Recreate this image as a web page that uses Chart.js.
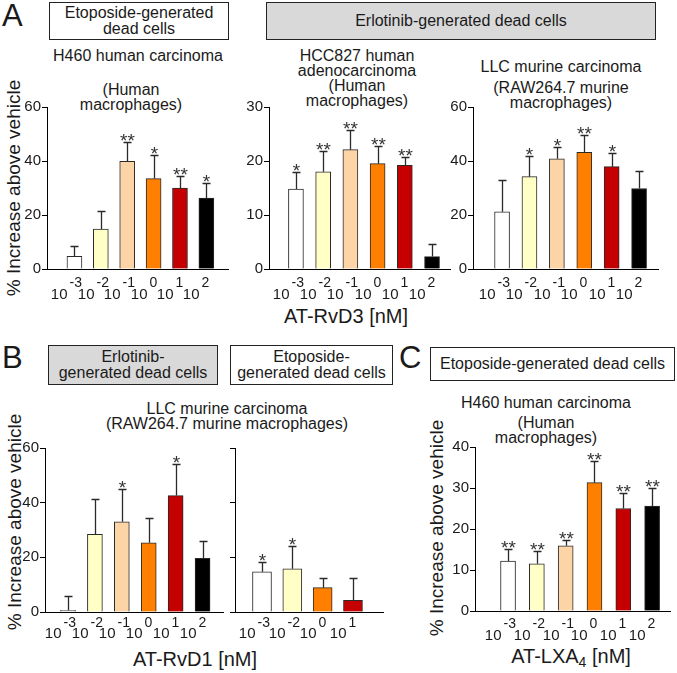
<!DOCTYPE html>
<html>
<head>
<meta charset="utf-8">
<script src="https://cdn.jsdelivr.net/npm/chart.js@4"></script>
<style>
body { margin: 0; background: #fff; }
#fig { position: relative; width: 677px; height: 673px; font-family: "Liberation Sans", Arial, sans-serif; color: #1a1a1a; }
canvas { position: absolute; }
.t { position: absolute; text-align: center; font-size: 16px; line-height: 15px; white-space: nowrap; }
.box { position: absolute; border: 1px solid #222; box-sizing: border-box; display: flex; align-items: center; justify-content: center; text-align: center; font-size: 16px; line-height: 16px; }
.gray { background: #d9d9d9; }
.white { background: #fff; }
.letter { position: absolute; font-size: 31px; line-height: 31px; }
.ax { position: absolute; font-size: 20px; white-space: nowrap; transform: translateX(-50%); }
.yt { position: absolute; font-size: 19px; white-space: nowrap; transform: translate(-50%, -50%) rotate(-90deg); }
</style>
</head>
<body>
<div id="fig">
  <div class="letter" style="left:2px;top:0px">A</div>
  <div class="box white" style="left:49px;top:2px;width:180px;height:38px">Etoposide-generated<br>dead cells</div>
  <div class="box gray" style="left:266px;top:2px;width:390px;height:38px">Erlotinib-generated dead cells</div>
  <div class="t" style="left:38px;top:48px;width:200px">H460 human carcinoma</div>
  <div class="t" style="left:31px;top:82px;width:200px">(Human<br>macrophages)</div>
  <div class="t" style="left:257px;top:48px;width:200px">HCC827 human<br>adenocarcinoma<br>(Human<br>macrophages)</div>
  <div class="t" style="left:461px;top:59px;width:200px">LLC murine carcinoma</div>
  <div class="t" style="left:461px;top:80px;width:200px">(RAW264.7 murine<br>macrophages)</div>
  <div class="yt" style="left:14px;top:188px">% Increase above vehicle</div>
  <div class="ax" style="left:346px;top:305px">AT-RvD3 [nM]</div>

  <div class="letter" style="left:2px;top:342px">B</div>
  <div class="box gray" style="left:48px;top:345px;width:170px;height:40px">Erlotinib-<br>generated dead cells</div>
  <div class="box white" style="left:230px;top:345px;width:163px;height:40px">Etoposide-<br>generated dead cells</div>
  <div class="t" style="left:77px;top:401px;width:300px">LLC murine carcinoma<br>(RAW264.7 murine macrophages)</div>
  <div class="yt" style="left:15px;top:522px">% Increase above vehicle</div>
  <div class="ax" style="left:195px;top:648px">AT-RvD1 [nM]</div>

  <div class="letter" style="left:399px;top:342px">C</div>
  <div class="box white" style="left:430px;top:347px;width:245px;height:34px">Etoposide-generated dead cells</div>
  <div class="t" style="left:446px;top:395px;width:200px">H460 human carcinoma</div>
  <div class="t" style="left:446px;top:415px;width:200px">(Human<br>macrophages)</div>
  <div class="yt" style="left:437px;top:528px">% Increase above vehicle</div>
  <div class="ax" style="left:571px;top:645px">AT-LXA<sub style="font-size:14px;vertical-align:-4px">4</sub> [nM]</div>

  <canvas id="a1" width="230" height="214" style="left:0px;top:95px"></canvas>
  <canvas id="a2" width="227" height="214" style="left:225px;top:95px"></canvas>
  <canvas id="a3" width="230" height="214" style="left:430px;top:95px"></canvas>
  <canvas id="b1" width="225" height="216" style="left:0px;top:436px"></canvas>
  <canvas id="b2" width="160" height="216" style="left:225px;top:436px"></canvas>
  <canvas id="c1" width="242" height="216" style="left:430px;top:435px"></canvas>
</div>
<script>
// dose exponents (10^x nM)
const expSix = ['-3', '-2', '-1', '0', '1', '2'];
const expFour = ['-3', '-2', '0', '1'];
const colSix = ['#ffffff', '#ffffc6', '#fdd4a6', '#ff8000', '#c40000', '#000000'];
const colFour = ['#ffffff', '#ffffc6', '#ff8000', '#c40000'];

// A: AT-RvD3
const a1Vals = [4.7, 14.8, 39.9, 33.5, 30.0, 26.3];
const a1Errs = [8.4, 21.4, 47.1, 42.2, 34.4, 32.0];
const a1Stars = ['', '', '**', '*', '**', '*'];
const a2Vals = [14.8, 18.0, 22.1, 19.5, 19.2, 2.3];
const a2Errs = [18.0, 21.9, 25.8, 22.7, 20.7, 4.7];
const a2Stars = ['*', '**', '**', '**', '**', ''];
const a3Vals = [21.2, 34.2, 40.8, 43.2, 37.9, 29.8];
const a3Errs = [32.8, 41.8, 45.3, 49.8, 43.1, 36.3];
const a3Stars = ['', '*', '*', '**', '*', ''];
// B: AT-RvD1
const b1Vals = [0.6, 28.4, 33.0, 25.3, 42.6, 19.6];
const b1Errs = [5.7, 41.2, 44.9, 34.3, 54.1, 25.9];
const b1Stars = ['', '', '*', '', '*', ''];
const b2Vals = [14.7, 15.8, 8.9, 4.3];
const b2Errs = [18.4, 24.2, 12.5, 12.5];
const b2Stars = ['*', '*', '', ''];
// C: AT-LXA4
const cVals = [12.2, 11.5, 15.9, 31.3, 25.0, 25.6];
const cErrs = [15.2, 14.6, 17.2, 36.6, 28.8, 30.0];
const cStars = ['**', '**', '**', '**', '**', '**'];

const FONT = '"Liberation Sans", Arial, sans-serif';

// error bars, stars and 10^x labels
function decor(errs, stars, exps, dyBase, dyExp) {
  return {
    id: 'decor',
    afterDatasetsDraw(chart) {
      const ctx = chart.ctx;
      const ys = chart.scales.y;
      const bottom = chart.chartArea.bottom;
      chart.getDatasetMeta(0).data.forEach((bar, i) => {
        const x = Math.round(bar.x) + 0.5;
        const top = Math.round(ys.getPixelForValue(errs[i])) + 0.5;
        ctx.save();
        ctx.strokeStyle = '#2a2a2a';
        ctx.lineWidth = 1.3;
        ctx.beginPath();
        ctx.moveTo(x, bar.y);
        ctx.lineTo(x, top);
        ctx.moveTo(x - 4, top);
        ctx.lineTo(x + 4, top);
        ctx.stroke();
        if (stars[i]) {
          ctx.fillStyle = '#333';
          ctx.font = '19px ' + FONT;
          ctx.textAlign = 'center';
          ctx.fillText(stars[i], x, top + 4);
        }
        ctx.fillStyle = '#1a1a1a';
        ctx.font = '15px ' + FONT;
        ctx.textAlign = 'right';
        ctx.fillText('10', x - 7, bottom + dyBase);
        ctx.font = '14px ' + FONT;
        ctx.textAlign = 'left';
        ctx.fillText(exps[i], x - 5, bottom + dyExp);
        ctx.restore();
      });
    }
  };
}

function makeChart(id, vals, errs, stars, exps, colors, o) {
  new Chart(document.getElementById(id), {
    type: 'bar',
    data: {
      datasets: [{
        data: vals.map((v, i) => ({ x: i + 1, y: v })),
        backgroundColor: colors,
        borderColor: '#2a2a2a',
        borderWidth: 1,
        barThickness: o.bw
      }]
    },
    options: {
      responsive: false,
      animation: false,
      devicePixelRatio: 1,
      layout: { padding: { top: 12, right: 2, left: 0, bottom: 0 } },
      plugins: { legend: { display: false }, tooltip: { enabled: false } },
      scales: {
        x: {
          type: 'linear',
          min: o.xMin,
          max: o.xMax,
          bounds: 'data',
          offset: false,
          grid: { display: false, offset: false },
          ticks: { display: false },
          border: { color: '#000', width: 1 },
          afterBuildTicks: s => { s.min = o.xMin; s.max = o.xMax; },
          afterFit: s => { s.height = o.xh; }
        },
        y: {
          min: 0,
          max: o.yMax,
          ticks: {
            stepSize: o.step,
            padding: 1,
            color: '#1a1a1a',
            font: { family: FONT, size: 15 },
            callback: v => (o.noLabels ? '' : v)
          },
          grid: { drawOnChartArea: false, drawTicks: true, tickLength: 5, color: '#000' },
          border: { color: '#000', width: 1 },
          afterFit: s => { s.width = o.yw; }
        }
      }
    },
    plugins: [decor(errs, stars, exps, o.dyBase, o.dyExp)]
  });
}

makeChart('a1', a1Vals, a1Errs, a1Stars, expSix, colSix,
  { bw: 15, xMin: -0.04, xMax: 6.82, yMax: 60, step: 20, yw: 47, xh: 40, dyBase: 30, dyExp: 18 });
makeChart('a2', a2Vals, a2Errs, a2Stars, expSix, colSix,
  { bw: 15, xMin: 0.01, xMax: 6.66, yMax: 30, step: 10, yw: 44, xh: 40, dyBase: 30, dyExp: 18 });
makeChart('a3', a3Vals, a3Errs, a3Stars, expSix, colSix,
  { bw: 15, xMin: -0.06, xMax: 6.69, yMax: 60, step: 20, yw: 43, xh: 40, dyBase: 30, dyExp: 18 });
makeChart('b1', b1Vals, b1Errs, b1Stars, expSix, colSix,
  { bw: 15, xMin: 0.145, xMax: 6.76, yMax: 60, step: 20, yw: 45, xh: 40, dyBase: 26, dyExp: 15 });
makeChart('b2', b2Vals, b2Errs, b2Stars, expFour, colFour,
  { bw: 19, xMin: 0.11, xMax: 4.99, yMax: 60, step: 20, yw: 10, xh: 40, dyBase: 26, dyExp: 15, noLabels: true });
makeChart('c1', cVals, cErrs, cStars, expSix, colSix,
  { bw: 15, xMin: -0.146, xMax: 6.62, yMax: 40, step: 10, yw: 45, xh: 40, dyBase: 29, dyExp: 17 });
</script>
</body>
</html>
